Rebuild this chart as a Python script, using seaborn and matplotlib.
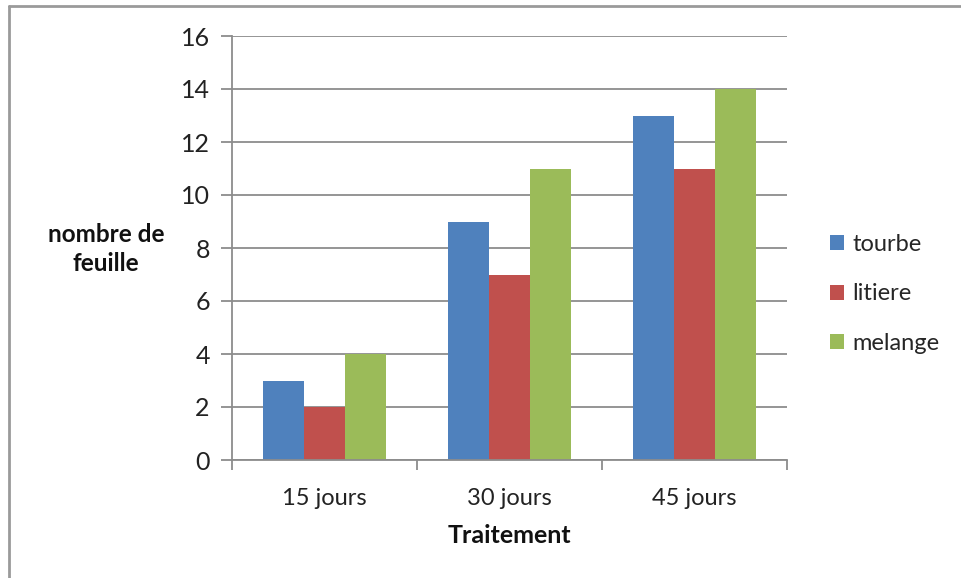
import matplotlib
matplotlib.use("Agg")
import matplotlib.pyplot as plt
import matplotlib.lines as mlines
import seaborn as sns
import pandas as pd

categories = ["15 jours", "30 jours", "45 jours"]
series = ["tourbe", "litiere", "melange"]
tourbe = [3, 9, 13]
litiere = [2, 7, 11]
melange = [4, 11, 14]
colors = ["#4F81BD", "#C0504D", "#9BBB59"]

df = pd.DataFrame({
    "Traitement": categories * 3,
    "serie": [s for s in series for _ in categories],
    "valeur": tourbe + litiere + melange,
})

sns.set_theme(style="white")
plt.rcParams["font.family"] = ["Lato", "DejaVu Sans"]

fig = plt.figure(figsize=(9.61, 5.78), dpi=100)
ax = fig.add_axes([232 / 961, 1 - 460 / 578, 555 / 961, 424 / 578])

sns.barplot(data=df, x="Traitement", y="valeur", hue="serie", palette=colors,
            saturation=1, width=0.667, ax=ax, linewidth=0, legend=True)

ax.set_ylim(0, 16)
ax.set_xlim(-0.5, 2.5)
ax.set_yticks(range(0, 17, 2))
grid_gray = "#8c8c8c"
ax.yaxis.grid(True, color=grid_gray, linewidth=1.3)
ax.set_axisbelow(True)
for side in ["top", "right"]:
    ax.spines[side].set_visible(False)
for side in ["left", "bottom"]:
    ax.spines[side].set_color(grid_gray)
    ax.spines[side].set_linewidth(1.3)

ax.tick_params(axis="y", which="major", left=True, length=8, width=1.3,
               color=grid_gray, labelsize=18, pad=8, labelcolor="#222222")
ax.tick_params(axis="x", which="major", bottom=False, labelsize=17, pad=14,
               labelcolor="#222222")
# group separators below the category axis
ax.set_xticks([-0.5, 0.5, 1.5, 2.5], minor=True)
ax.tick_params(axis="x", which="minor", bottom=True, length=7, width=1.3,
               color=grid_gray, direction="out")

ax.set_xlabel("Traitement", fontsize=18, fontweight="bold", labelpad=11,
              color="#111111")
ax.set_ylabel("")
fig.text(106 / 961, 1 - 249 / 578, "nombre de\nfeuille", ha="center",
         va="center", fontsize=17.5, fontweight="bold", color="#111111",
         linespacing=1.3)

handles, labels = ax.get_legend_handles_labels()
ax.legend_.remove()
fig.legend(handles, labels, loc="center left",
           bbox_to_anchor=(809 / 961, 1 - 294 / 578), frameon=False,
           fontsize=17, handlelength=0.6, handleheight=0.6,
           handletextpad=0.35, labelspacing=1.2)

# outer chart frame (left and top edges)
fig.add_artist(mlines.Line2D([9 / 961, 9 / 961], [0, 1 - 6 / 578],
                             transform=fig.transFigure, color="#9a9a9a",
                             linewidth=2))
fig.add_artist(mlines.Line2D([9 / 961, 1], [1 - 6 / 578, 1 - 6 / 578],
                             transform=fig.transFigure, color="#9a9a9a",
                             linewidth=2))

fig.savefig("out.png", dpi=100)
